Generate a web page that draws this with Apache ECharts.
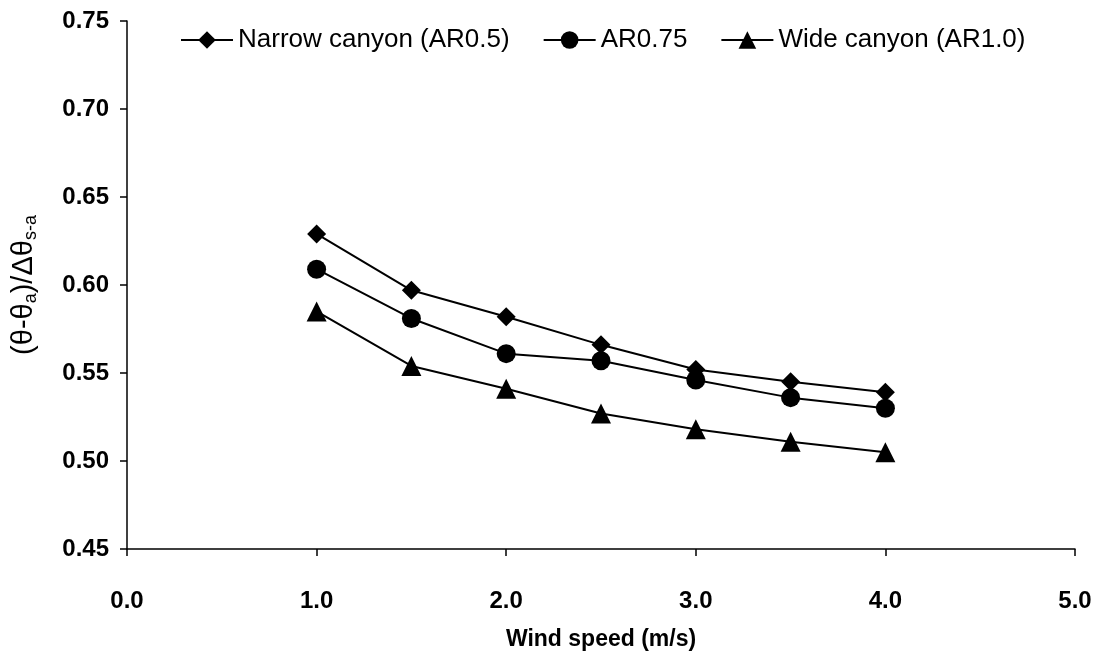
<!DOCTYPE html>
<html>
<head>
<meta charset="utf-8">
<script src="https://cdn.jsdelivr.net/npm/echarts@6/dist/echarts.min.js"></script>
<style>
  html, body { margin: 0; padding: 0; background: #fff; }
  #main { width: 1100px; height: 655px; }
</style>
</head>
<body>
<div id="main"></div>
<script>
// wind speed (m/s)
var windSpeed = [1.0, 1.5, 2.0, 2.5, 3.0, 3.5, 4.0];

// normalised temperature for each aspect ratio
var narrowAR05 = [0.629, 0.597, 0.582, 0.566, 0.552, 0.545, 0.539];
var mediumAR075 = [0.609, 0.581, 0.561, 0.557, 0.546, 0.536, 0.530];
var wideAR10 = [0.585, 0.554, 0.541, 0.527, 0.518, 0.511, 0.505];

var seriesNames = ['Narrow canyon (AR0.5)', 'AR0.75', 'Wide canyon (AR1.0)'];

function pairs(ys) {
    return windSpeed.map(function (x, i) { return [x, ys[i]]; });
}

var myChart = echarts.init(document.getElementById('main'));

var labelFont = 'Liberation Sans, Arial, sans-serif';

var option = {
    animation: false,
    backgroundColor: '#fff',
    grid: { left: 127, right: 25, top: 21, bottom: 106, outerBoundsMode: 'none', containLabel: false },
    legend: {
        top: 22,
        left: 175,
        itemWidth: 52,
        itemHeight: 22,
        itemGap: 33,
        textStyle: { fontFamily: labelFont, fontSize: 26, color: '#000' },
        data: seriesNames
    },
    xAxis: {
        type: 'value',
        min: 0,
        max: 5,
        interval: 1,
        name: 'Wind speed (m/s)',
        nameLocation: 'middle',
        nameGap: 79,
        nameTextStyle: { fontFamily: labelFont, fontSize: 23, fontWeight: 'bold', color: '#000' },
        axisLine: { lineStyle: { color: '#000', width: 1.5 } },
        axisTick: { inside: false, length: 7, lineStyle: { color: '#000', width: 1.5 } },
        axisLabel: {
            margin: 40,
            fontFamily: labelFont, fontSize: 24, fontWeight: 'bold', color: '#000',
            formatter: function (v) { return v.toFixed(1); }
        },
        splitLine: { show: false }
    },
    yAxis: {
        type: 'value',
        min: 0.45,
        max: 0.75,
        interval: 0.05,
        name: '{n|(θ-θ}{s|a}{n|)/Δθ}{s|s-a}',
        nameLocation: 'middle',
        nameRotate: 90,
        nameGap: 86,
        nameTextStyle: {
            color: '#000',
            rich: {
                n: { fontFamily: labelFont, fontSize: 29, color: '#000', lineHeight: 34 },
                s: { fontFamily: labelFont, fontSize: 18, color: '#000', lineHeight: 34, padding: [14, 0, 0, 0] }
            }
        },
        axisLine: { show: true, lineStyle: { color: '#000', width: 1.5 } },
        axisTick: { show: true, inside: false, length: 7, lineStyle: { color: '#000', width: 1.5 } },
        axisLabel: {
            margin: 18,
            fontFamily: labelFont, fontSize: 24, fontWeight: 'bold', color: '#000',
            formatter: function (v) { return v.toFixed(2); }
        },
        splitLine: { show: false }
    },
    series: [
        {
            name: seriesNames[0],
            type: 'line',
            data: pairs(narrowAR05),
            symbol: 'diamond',
            symbolSize: 19,
            lineStyle: { color: '#000', width: 2 },
            itemStyle: { color: '#000' }
        },
        {
            name: seriesNames[1],
            type: 'line',
            data: pairs(mediumAR075),
            symbol: 'circle',
            symbolSize: 19,
            lineStyle: { color: '#000', width: 2 },
            itemStyle: { color: '#000' }
        },
        {
            name: seriesNames[2],
            type: 'line',
            data: pairs(wideAR10),
            symbol: 'triangle',
            symbolSize: 20,
            lineStyle: { color: '#000', width: 2 },
            itemStyle: { color: '#000' }
        }
    ]
};

myChart.setOption(option);
</script>
</body>
</html>
